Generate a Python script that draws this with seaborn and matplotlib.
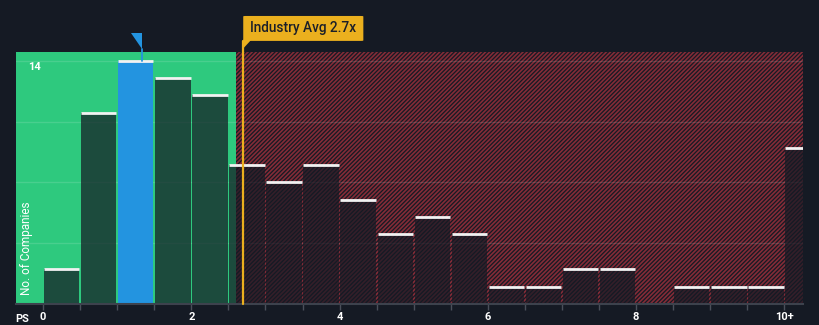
import numpy as np
import pandas as pd
import seaborn as sns
import matplotlib
matplotlib.use("Agg")
import matplotlib.pyplot as plt
from matplotlib.patches import Polygon, FancyBboxPatch
from matplotlib.transforms import blended_transform_factory

# Price-to-sales distribution of peer companies (bin width 0.5x, last bin = 10x and above)
bin_lefts = [0.0, 0.5, 1.0, 1.5, 2.0, 2.5, 3.0, 3.5, 4.0, 4.5, 5.0,
             5.5, 6.0, 6.5, 7.0, 7.5, 8.0, 8.5, 9.0, 9.5, 10.0]
counts = [2, 11, 14, 13, 12, 8, 7, 8, 6, 4, 5, 4, 1, 1, 2, 2, 0, 1, 1, 1, 9]
tick_values = [0, 2, 4, 6, 8, 10]
tick_labels = ["0", "2", "4", "6", "8", "10+"]
company_ps = 1.33
fair_ps = 2.6
industry_avg = 2.7
highlight_bin = 2
grid_levels = [3.5, 7, 10.5, 14]

BG = "#151a24"
GREEN = "#2ec97e"
RED = "#842b37"
BLUE = "#2394e0"
ORANGE = "#ebb01e"
BAR_DARK = "#151a24"

sns.set_theme(style="dark")
plt.rcParams["font.family"] = ["Roboto", "DejaVu Sans"]
plt.rcParams["hatch.linewidth"] = 1.2
plt.rcParams["hatch.color"] = RED

fig = plt.figure(figsize=(8.2, 3.25), dpi=100, facecolor=BG)
ax = fig.add_axes([16 / 820, 21 / 325, 787 / 820, 252 / 325])
ax.set_facecolor(BG)

xmin, xmax = -0.365, 10.25
ymax = 14.5

# shaded zones: green up to the fair value, hatched red beyond it
ax.axvspan(xmin, fair_ps, color=GREEN, zorder=0, lw=0)
ax.axvspan(fair_ps, xmax, facecolor=BG, edgecolor=RED, hatch="////////", zorder=0, lw=0)

for g in grid_levels:
    ax.axhline(g, color="white", alpha=0.13, lw=1, zorder=0.5)

df = pd.DataFrame({"ps": [b + 0.25 for b in bin_lefts], "n": counts})
edges = [float(b) for b in bin_lefts] + [bin_lefts[-1] + 0.5]
sns.histplot(data=df, x="ps", weights="n", bins=edges, shrink=0.955,
             ax=ax, linewidth=0, zorder=2)

bars = ax.containers[-1]
for i, bar in enumerate(bars):
    if i == highlight_bin:
        bar.set_facecolor(BLUE)
        bar.set_alpha(1.0)
    else:
        bar.set_facecolor(BAR_DARK)
        bar.set_alpha(0.72)
    h = bar.get_height()
    if h > 0:
        x0 = bar.get_x()
        ax.hlines(h, x0, x0 + bar.get_width(), color="#f2f2f2", lw=2.0, zorder=3)

ax.set_xlim(xmin, xmax)
ax.set_ylim(0, ymax)

trans = blended_transform_factory(ax.transData, ax.transAxes)

# industry average marker and label
box_bottom = 1.044
ax.plot([industry_avg, industry_avg], [0, box_bottom], color=ORANGE, lw=1.6,
        transform=trans, clip_on=False, zorder=5)
box_w = 1.62
box_h = 0.099
ax.add_patch(FancyBboxPatch((industry_avg, box_bottom), box_w, box_h,
                            boxstyle="round,pad=0,rounding_size=0.03",
                            fc=ORANGE, ec="none", transform=trans, clip_on=False, zorder=5,
                            mutation_aspect=0.06))
ax.add_patch(Polygon([(industry_avg, box_bottom + 0.005), (industry_avg + 0.11, box_bottom + 0.005),
                      (industry_avg, box_bottom - 0.03)],
                     closed=True, fc=ORANGE, ec="none", transform=trans, clip_on=False, zorder=5))
ax.text(industry_avg + box_w / 2, box_bottom + box_h / 2, f"Industry Avg {industry_avg}x",
        transform=trans, ha="center", va="center", fontsize=9.8, color="#1b1f29",
        fontweight="medium", zorder=6, clip_on=False)

# company marker
tip = 1.012
ax.add_patch(Polygon([(company_ps - 0.14, 1.077), (company_ps, 1.077), (company_ps, tip)],
                     closed=True, fc=BLUE, ec="none", transform=trans, clip_on=False, zorder=5))
ax.plot([company_ps, company_ps], [tip, counts[highlight_bin] / ymax], color=BLUE, lw=1.3,
        transform=trans, clip_on=False, zorder=5)

# axes styling
for s in ["top", "right", "left"]:
    ax.spines[s].set_visible(False)
ax.spines["bottom"].set_color("#3d424d")
ax.spines["bottom"].set_linewidth(1.5)
ax.spines["bottom"].set_zorder(4)

tick_pos = [b for b in bin_lefts]
ax.set_xticks(tick_pos)
ax.set_xticklabels([tick_labels[tick_values.index(int(t))] if float(t).is_integer() and int(t) in tick_values else ""
                    for t in tick_pos])
ax.tick_params(axis="x", length=4, width=1, color="#4a4f5a", labelcolor="white",
               labelsize=8, pad=1.5, bottom=True)
for lab in ax.get_xticklabels():
    lab.set_fontweight("bold")
ax.set_yticks([])
ax.set_xlabel("")
ax.set_ylabel("")

ax.text(-0.28, -0.06, "PS", transform=trans, ha="center", va="center",
        fontsize=8, fontweight="bold", color="white")
ax.text(-0.2, grid_levels[-1] - 0.05, "14", ha="left", va="top", fontsize=8,
        fontweight="bold", color="white", zorder=6)
ax.text(-0.22, 0.035, "No. of Companies", transform=trans, rotation=90,
        ha="center", va="bottom", fontsize=8.5, color="white", zorder=6)

fig.savefig("out.png", dpi=100, facecolor=BG)
